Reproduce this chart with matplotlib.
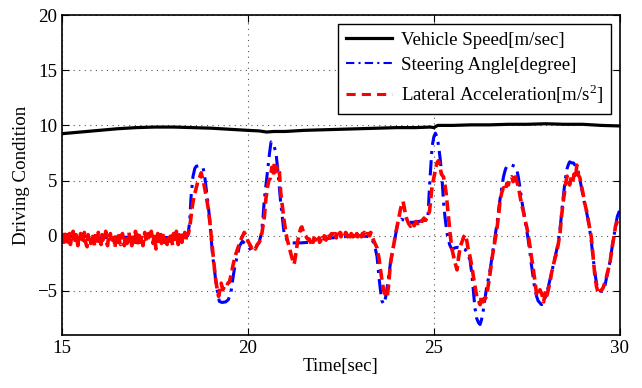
import numpy as np
import matplotlib
matplotlib.use("Agg")
import matplotlib.pyplot as plt

# ---------------- data ----------------
speed_t = [15.0, 15.5, 16.0, 16.5, 17.0, 17.5, 18.0, 18.5, 19.0, 19.5, 20.0, 20.3, 20.5,
           20.7, 21.0, 21.5, 22.0, 22.5, 23.0, 23.5, 24.0, 24.5, 24.9, 25.0, 25.1, 25.5,
           26.0, 26.5, 27.0, 27.5, 28.0, 28.5, 29.0, 29.5, 30.0]
speed_v = [9.25, 9.4, 9.55, 9.7, 9.8, 9.85, 9.85, 9.8, 9.75, 9.65, 9.55, 9.5, 9.4,
           9.45, 9.45, 9.55, 9.6, 9.65, 9.7, 9.75, 9.8, 9.8, 9.85, 9.8, 10.0, 10.0,
           10.05, 10.05, 10.1, 10.1, 10.15, 10.1, 10.1, 10.0, 9.95]

steer_t = [15.0, 15.5, 16.0, 16.5, 17.0, 17.5, 18.0, 18.38,
           18.43, 18.47, 18.52, 18.57, 18.61, 18.70, 18.79, 18.84, 18.88, 18.93, 18.97, 19.01,
           19.05, 19.10, 19.14, 19.19, 19.23, 19.30, 19.40, 19.47, 19.54, 19.58, 19.63, 19.70,
           19.77, 19.85, 19.95, 20.08, 20.2, 20.3, 20.36, 20.40, 20.44, 20.49, 20.53, 20.58,
           20.62, 20.68, 20.75, 20.80, 20.84, 20.88, 20.93, 20.97, 21.05, 21.15, 21.4, 21.64,
           21.8, 22.0, 22.5, 23.0, 23.3, 23.40, 23.47, 23.52, 23.56, 23.60, 23.65, 23.70,
           23.75, 23.83, 23.92, 24.01, 24.06, 24.12, 24.2, 24.4, 24.6, 24.75, 24.84, 24.88,
           24.92, 24.95, 25.0, 25.04, 25.09, 25.13, 25.17, 25.22, 25.26, 25.30, 25.35, 25.42,
           25.48, 25.56, 25.65, 25.75, 25.84, 25.90, 25.97, 26.02, 26.06, 26.10, 26.15, 26.20,
           26.24, 26.28, 26.33, 26.38, 26.42, 26.47, 26.51, 26.55, 26.60, 26.65, 26.69, 26.74,
           26.78, 26.83, 26.87, 26.92, 26.96, 27.00, 27.09, 27.17, 27.22, 27.27, 27.32, 27.36,
           27.41, 27.45, 27.50, 27.54, 27.58, 27.62, 27.67, 27.71, 27.76, 27.80, 27.85, 27.89,
           27.95, 28.00, 28.07, 28.12, 28.16, 28.21, 28.25, 28.30, 28.35, 28.39, 28.43, 28.47,
           28.51, 28.54, 28.58, 28.62, 28.65, 28.70, 28.75, 28.79, 28.84, 28.88, 28.93, 28.97,
           29.01, 29.05, 29.10, 29.14, 29.19, 29.23, 29.28, 29.32, 29.37, 29.41, 29.46, 29.51,
           29.55, 29.60, 29.64, 29.69, 29.73, 29.77, 29.81, 29.86, 29.90, 29.93, 29.97, 30.0]
steer_v = [-0.1, 0.0, -0.2, -0.1, -0.2, -0.1, -0.2, 0.0,
           1.15, 3.55, 5.35, 6.1, 6.3, 6.35, 6.2, 5.3, 4.15, 2.8, 1.45, -0.2,
           -1.85, -3.1, -4.3, -5.3, -5.95, -6.05, -6.0, -5.8, -5.2, -4.2, -3.1, -2.0,
           -0.95, -0.5, -0.8, -1.3, -1.1, -0.6, 0.2, 1.5, 3.3, 4.8, 6.0, 7.5,
           8.5, 8.3, 7.6, 6.0, 4.5, 3.0, 1.5, 0.25, -0.4, -0.65, -0.65, -0.6,
           -0.4, -0.3, -0.1, 0.0, -0.1, -0.8, -1.9, -3.7, -4.9, -5.9, -6.2, -5.6,
           -4.5, -2.5, -0.8, 0.85, 1.3, 1.5, 1.4, 1.2, 1.3, 1.4, 1.8, 4.45,
           6.5, 8.1, 9.0, 9.3, 8.9, 8.0, 6.9, 5.0, 2.95, 1.6, 0.25, -0.8,
           -1.25, -1.1, -1.05, -1.1, -1.25, -1.6, -2.2, -3.5, -5.0, -6.5, -7.5, -7.9,
           -8.05, -7.6, -6.7, -5.5, -4.6, -3.8, -3.1, -2.2, -1.1, 0.0, 1.0, 2.3,
           3.4, 4.5, 5.35, 6.0, 6.3, 6.4, 6.4, 6.3, 6.1, 5.3, 4.2, 3.2,
           2.2, 1.3, 0.4, -0.5, -1.5, -2.6, -3.8, -4.8, -5.5, -5.9, -6.1, -6.25,
           -6.1, -5.5, -4.7, -4.0, -3.4, -2.6, -2.0, -1.3, -0.4, 0.6, 2.0, 3.3,
           4.5, 5.3, 6.1, 6.5, 6.7, 6.6, 6.6, 6.4, 6.2, 5.8, 5.0, 4.3,
           3.6, 2.9, 2.2, 1.5, 0.5, -0.5, -2.0, -3.2, -4.3, -4.8, -5.0, -5.05,
           -5.0, -4.5, -3.8, -3.1, -2.4, -1.5, -0.6, 0.4, 1.2, 1.75, 2.1, 2.4]

# lateral acceleration: quiet stretch sampled every 0.025 s from 15.00 s
lat_quiet1_start = 15.0
lat_quiet1 = [-0.1, -0.6, 0.3, -0.4, -0.9, 0.1, -0.5, -0.6, 0.2, -0.8, -0.3, -0.1, 0.4, -0.7,
              -0.5, 0.1, -0.2, -0.9, 0.0, -0.3, 0.2, -0.6, -0.5, -0.1, 0.3, -0.4, -0.8, -1.0,
              0.1, -0.5, -0.2, -0.7, -0.6, 0.2, -0.3, -0.9, 0.0, -0.5, -0.8, 0.3, -0.2, -0.4,
              -0.8, 0.1, -0.4, -0.1, -0.3, 0.4, -0.6, -0.9, -0.1, -0.3, 0.2, -0.7, -0.5, -0.2,
              -0.2, -1.1, 0.1, -0.6, -0.3, 0.3, -0.6, -0.8, -0.1, 0.2, -0.4, -0.9, 0.0, -0.3,
              -0.7, -0.1, 0.3, -0.5, -0.2, -0.9, 0.1, -0.3, -0.6, 0.4, -0.4, -0.8, -0.1, 0.2,
              -0.6, -0.3, 0.0, -0.9, -0.3, 0.3, -0.2, -0.6, -0.5, 0.2, 0.0, -0.4, 0.4, -0.2,
              -0.7, 0.1, -0.3, -1.2, -0.1, 0.2, -0.5, -0.3, 0.1, -0.7, -0.2, 0.3, -0.6, -0.1,
              -0.4, -0.8, 0.1, -0.2, -0.5, 0.3, -0.4, -0.9, 0.2, -0.1, -0.5, 0.4, -0.3, -0.8,
              0.1, -0.4, 0.0, -0.6, 0.2, -0.2, 0.3, -0.5, 0.0]
lat_mid1_t = [18.40, 18.45, 18.50, 18.55, 18.60, 18.65, 18.70, 18.74, 18.78, 18.82, 18.88,
              18.93, 18.97, 19.01, 19.05, 19.09, 19.12, 19.16, 19.21, 19.25, 19.28, 19.32,
              19.37, 19.42, 19.46, 19.50, 19.55, 19.59, 19.65, 19.72, 19.79, 19.86, 19.90,
              19.95, 20.00, 20.05, 20.10, 20.15, 20.20, 20.25, 20.30, 20.35, 20.40, 20.44,
              20.48, 20.52, 20.56, 20.60, 20.64, 20.68, 20.71, 20.75, 20.80, 20.84, 20.88,
              20.93, 20.97, 21.01, 21.05, 21.10, 21.15, 21.20, 21.24, 21.28, 21.33, 21.38,
              21.42, 21.45, 21.50, 21.55, 21.60]
lat_mid1_v = [0.2, 1.2, 2.6, 3.6, 4.2, 4.9, 5.3, 5.7, 5.2, 4.6, 3.5,
              2.5, 1.4, 0.0, -1.5, -2.7, -3.7, -4.6, -5.5, -4.8, -4.3, -4.9,
              -4.6, -4.7, -4.3, -4.2, -3.5, -2.8, -1.9, -1.2, -0.5, 0.0, 0.3,
              0.0, -0.5, -0.8, -1.1, -0.9, -1.2, -0.8, -0.6, -0.3, 0.8, 1.7,
              3.3, 4.3, 5.0, 5.2, 6.2, 5.4, 6.6, 5.8, 6.3, 6.0, 3.9,
              2.5, 1.4, 0.5, -0.3, -0.9, -1.6, -2.2, -2.6, -1.8, -0.6, 0.2,
              0.7, 0.8, 0.2, 0.0, -0.3]
lat_quiet2_start = 21.65
lat_quiet2 = [-0.3, -0.6, -0.2, -0.5, -0.6, -0.2, -0.3, -0.5, -0.4, -0.1, -0.2, -0.6, -0.5,
              -0.2, -0.3, -0.4, 0.0, -0.3, -0.4, -0.1, -0.1, 0.2, -0.2, 0.1, 0.2, -0.1, -0.1,
              0.2, 0.1, -0.2, 0.3, 0.0, 0.1, 0.3, -0.1, 0.2, 0.2, -0.1, 0.0, 0.3, 0.2, -0.1,
              0.3, 0.0, -0.1, 0.2, 0.1, -0.1, 0.2, 0.3, 0.0, 0.2, -0.1, 0.1, 0.3, 0.1, -0.1,
              0.2, 0.0, 0.3, 0.1, 0.0, 0.2, 0.1, 0.2, 0.0, 0.3, 0.1]
lat_mid2_t = [23.35, 23.40, 23.47, 23.52, 23.56, 23.60, 23.65, 23.70, 23.74, 23.78, 23.83,
              23.88, 23.92, 23.97, 24.01, 24.06, 24.10, 24.14, 24.17, 24.20, 24.23, 24.27,
              24.32, 24.37, 24.42, 24.47, 24.52, 24.57, 24.62, 24.68, 24.73, 24.78, 24.83,
              24.88, 24.92, 24.95, 25.00, 25.04, 25.08, 25.12, 25.16, 25.20, 25.26, 25.30,
              25.33, 25.38, 25.44, 25.49, 25.53, 25.58, 25.62, 25.66, 25.71, 25.76, 25.80,
              25.84, 25.88, 25.92, 25.97, 26.02, 26.06, 26.11, 26.15, 26.20, 26.24, 26.28,
              26.32, 26.37, 26.42, 26.46, 26.51, 26.55, 26.60, 26.65, 26.69, 26.74, 26.78,
              26.83, 26.87, 26.92, 26.96, 27.00, 27.04, 27.09, 27.13, 27.18, 27.22, 27.27,
              27.32, 27.36, 27.41, 27.45, 27.50, 27.54, 27.58, 27.62, 27.67, 27.71, 27.76,
              27.80, 27.85, 27.90, 27.95, 28.00, 28.04, 28.08, 28.12, 28.16, 28.21, 28.25,
              28.30, 28.35, 28.39, 28.43, 28.47, 28.51, 28.54, 28.58, 28.61, 28.65, 28.69,
              28.73, 28.77, 28.81, 28.84, 28.88, 28.92, 28.96, 29.01, 29.05, 29.10, 29.14,
              29.19, 29.23, 29.28, 29.32, 29.37, 29.41, 29.46, 29.50, 29.55, 29.60, 29.64,
              29.69, 29.73, 29.77, 29.81, 29.85, 29.88, 29.93, 29.97, 30.00]
lat_mid2_v = [-0.2, -0.6, -1.1, -2.0, -3.0, -4.0, -5.0, -5.4, -5.6, -4.5, -2.5,
              -1.5, -0.8, 0.2, 0.85, 1.7, 2.4, 2.9, 3.1, 2.6, 2.0, 1.5,
              1.1, 0.85, 1.2, 0.9, 1.3, 1.1, 1.5, 1.3, 1.6, 1.4, 1.8,
              2.2, 3.5, 4.5, 5.3, 6.0, 6.6, 6.8, 6.3, 5.6, 5.3, 4.5,
              3.8, 2.1, 0.0, -1.3, -1.9, -2.6, -3.1, -2.0, -0.95, -0.5, -0.1,
              0.1, -0.4, -1.2, -1.9, -2.8, -3.7, -4.7, -5.5, -5.9, -6.25, -5.4,
              -6.0, -5.7, -5.5, -4.5, -3.4, -2.3, -1.25, -0.3, 0.55, 1.9, 3.25,
              4.0, 4.35, 4.1, 4.75, 4.6, 5.2, 5.35, 4.9, 5.65, 5.0, 4.45,
              3.5, 2.8, 2.1, 1.45, 0.7, -0.05, -0.9, -1.9, -3.0, -4.0, -5.3,
              -5.5, -4.9, -5.3, -6.0, -5.0, -5.4, -4.8, -4.2, -3.4, -2.7, -2.1,
              -1.55, -0.6, 0.25, 1.75, 2.95, 3.9, 4.75, 5.4, 5.0, 4.6, 5.3,
              4.9, 5.6, 5.2, 6.4, 5.5, 5.3, 4.6, 3.8, 3.0, 2.3, 1.6,
              0.6, -0.1, -1.9, -3.4, -4.6, -5.1, -4.8, -5.0, -4.7, -4.2, -3.7,
              -3.0, -2.5, -1.6, -0.65, 0.1, 0.85, 1.3, 1.6, 1.8]

quiet_step = 0.025
legend_labels = ["Vehicle Speed[m/sec]", "Steering Angle[degree]",
                 "Lateral Acceleration[m/s$^2$]"]
x_label = "Time[sec]"
y_label = "Driving Condition"

# ---------------- build the lateral series ----------------
q1_t = lat_quiet1_start + quiet_step * np.arange(len(lat_quiet1))
q2_t = lat_quiet2_start + quiet_step * np.arange(len(lat_quiet2))
lat_t = np.concatenate([q1_t, lat_mid1_t, q2_t, lat_mid2_t])
lat_v = np.concatenate([lat_quiet1, lat_mid1_v, lat_quiet2, lat_mid2_v])

# ---------------- plot ----------------
plt.rcParams["font.family"] = ["Liberation Serif", "DejaVu Serif"]
plt.rcParams["mathtext.fontset"] = "custom"
plt.rcParams["mathtext.rm"] = "Liberation Serif"

FS = 13.6
fig = plt.figure(figsize=(6.42, 3.88), dpi=100)
ax = fig.add_axes([0.0966, 0.1366, 0.869, 0.8245])

l1, = ax.plot(speed_t, speed_v, color="black", lw=2.3, solid_joinstyle="round")
l2, = ax.plot(steer_t, steer_v, color="#0000ff", lw=2.2, linestyle="-.",
              dashes=(5, 2, 1, 2))
l3, = ax.plot(lat_t, lat_v, color="#ff0000", lw=2.6, linestyle="--", dashes=(3, 1.4))

ax.set_xlim(15, 30)
ax.set_ylim(-9, 20)
ax.set_xticks([15, 20, 25, 30])
ax.set_yticks([-5, 0, 5, 10, 15, 20])
ax.grid(True, color="#555555", linestyle=(0, (1, 4)), linewidth=0.8)
ax.tick_params(direction="in", top=True, right=True, labelsize=FS, length=5, width=0.8)
for s in ax.spines.values():
    s.set_linewidth(1.2)
ax.set_xlabel(x_label, fontsize=FS, labelpad=1)
ax.set_ylabel(y_label, fontsize=FS, labelpad=5)

h2 = matplotlib.lines.Line2D([], [], color="#0000ff", lw=1.5, linestyle="-.", dashes=(4, 2, 1, 2))
h3 = matplotlib.lines.Line2D([], [], color="#ff0000", lw=2.2, linestyle="--", dashes=(3, 2))
leg = ax.legend([l1, h2, h3], legend_labels, loc="upper right", fontsize=FS,
                fancybox=False, framealpha=1, edgecolor="black",
                borderaxespad=0.45, handlelength=2.4, labelspacing=0.42,
                borderpad=0.42, handletextpad=0.5)
leg.get_frame().set_linewidth(1.0)

fig.savefig("out.png", dpi=100)
